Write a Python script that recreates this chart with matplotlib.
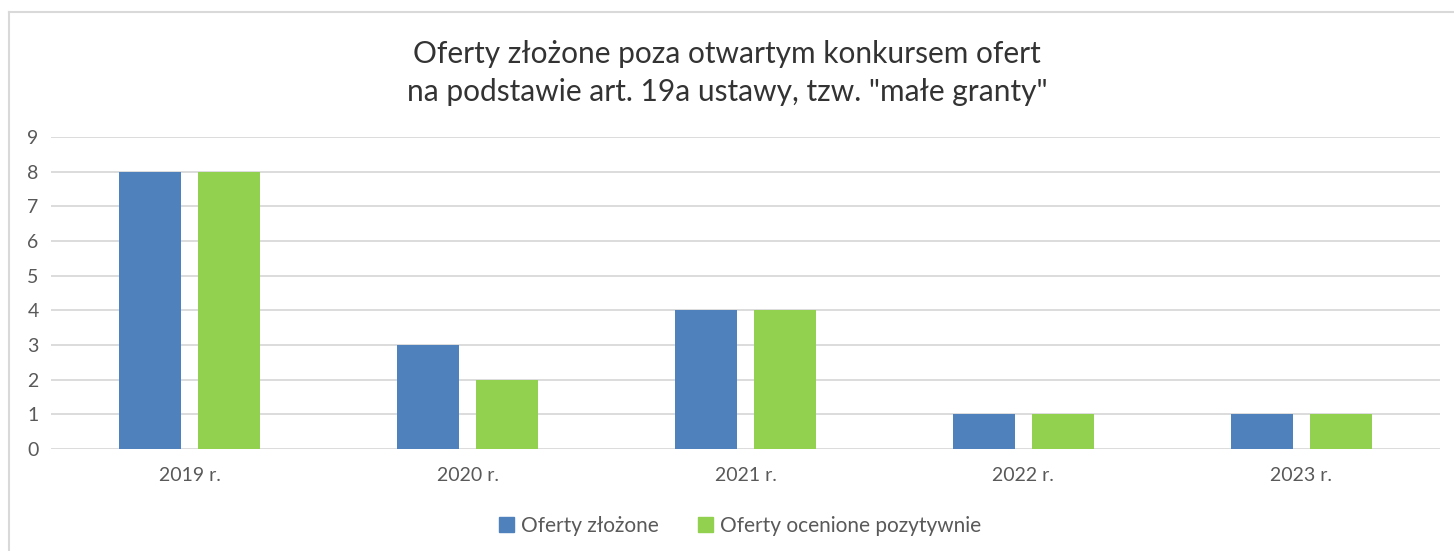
import matplotlib.pyplot as plt
import numpy as np
from matplotlib.patches import Patch

plt.rcParams['font.family'] = ['Lato', 'DejaVu Sans']

# Data
years = ['2019 r.', '2020 r.', '2021 r.', '2022 r.', '2023 r.']
oferty_zlozone = [8, 3, 4, 1, 1]
oferty_pozytywne = [8, 2, 4, 1, 1]

blue = '#4F81BD'
green = '#92D050'
grid_color = '#D9D9D9'
text_color = '#595959'

fig = plt.figure(figsize=(14.54, 5.51), dpi=100)
ax = fig.add_axes([51 / 1454, 1 - 449 / 551, (1440 - 51) / 1454, (449 - 137) / 551])

x = np.arange(len(years))
w = 0.223
ax.bar(x - 0.142, oferty_zlozone, w, color=blue, zorder=3)
ax.bar(x + 0.142, oferty_pozytywne, w, color=green, zorder=3)

ax.set_xlim(-0.5, len(years) - 0.5)
ax.set_ylim(0, 9)
ax.set_yticks(range(10))
ax.set_xticks(x)
ax.set_xticklabels(years)
ax.yaxis.grid(True, color=grid_color, linewidth=1.3, zorder=0)
ax.tick_params(axis='both', length=0, labelsize=14, colors=text_color)
ax.tick_params(axis='x', pad=13)
ax.tick_params(axis='y', pad=17)
for lbl in ax.get_yticklabels():
    lbl.set_horizontalalignment('left')
for s in ax.spines.values():
    s.set_visible(False)

fig.text(0.5, 1 - 73 / 551, 'Oferty złożone poza otwartym konkursem ofert\nna podstawie art. 19a ustawy, tzw. "małe granty"',
         ha='center', va='center', fontsize=21.5, color='#333333', linespacing=1.45)

handles = [Patch(color=blue), Patch(color=green)]
fig.legend(handles, ['Oferty złożone', 'Oferty ocenione pozytywnie'], loc='center',
           bbox_to_anchor=(0.509, 1 - 526 / 551), ncol=2, frameon=False, fontsize=15,
           labelcolor=text_color, handlelength=0.7, handleheight=0.7, handletextpad=0.35,
           columnspacing=1.9)

# chart border (left and top visible)
fig.add_artist(plt.Line2D([9 / 1454, 9 / 1454], [0, 1 - 12 / 551], color=grid_color, linewidth=1.5))
fig.add_artist(plt.Line2D([9 / 1454, 1], [1 - 12 / 551, 1 - 12 / 551], color=grid_color, linewidth=1.5))

fig.savefig('out.png', dpi=100)
